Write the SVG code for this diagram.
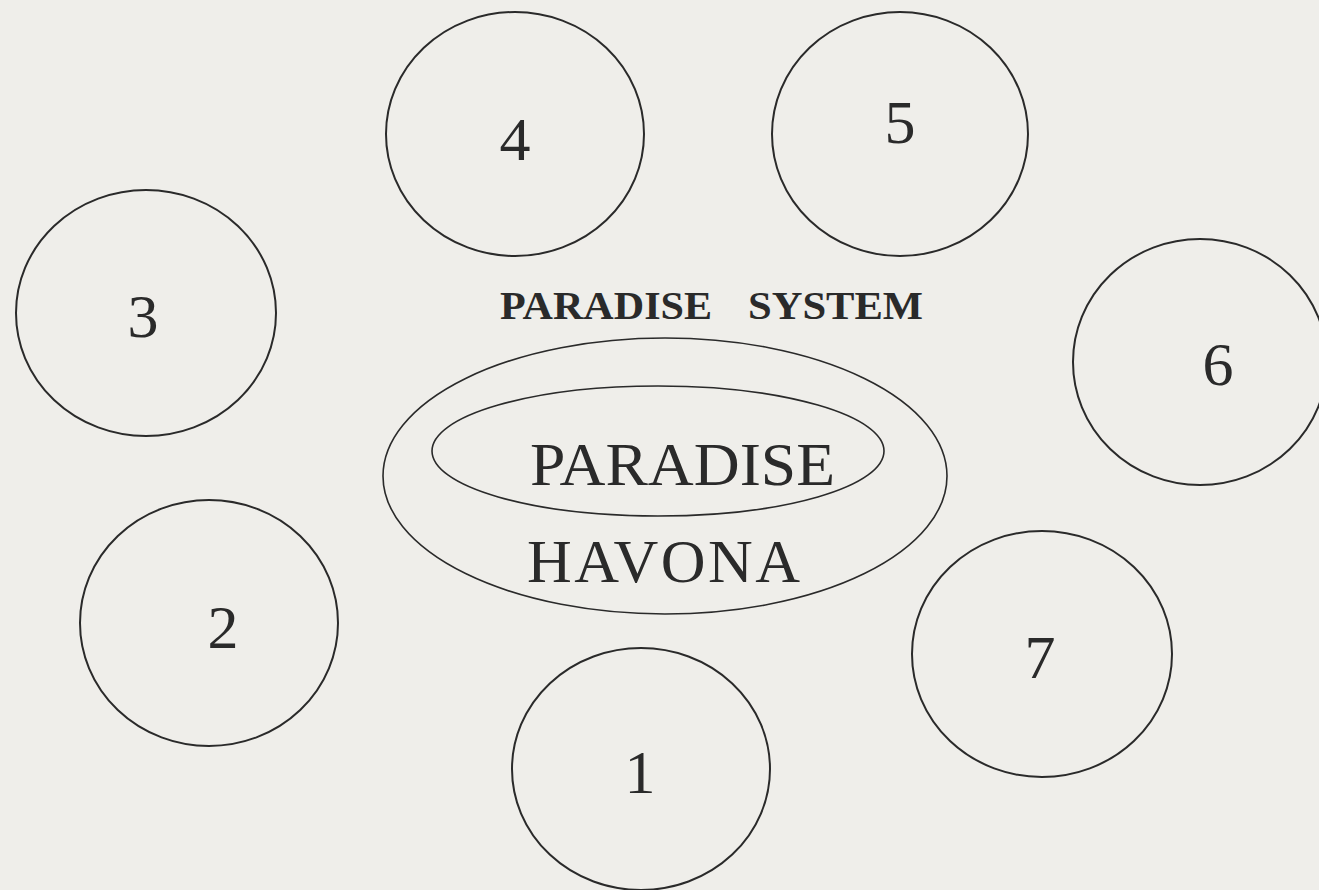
<svg xmlns="http://www.w3.org/2000/svg" width="1319" height="890" viewBox="0 0 1319 890">
<style>
.c{fill:none;stroke:#2a2a2a;stroke-width:2}
.e{fill:none;stroke:#2a2a2a;stroke-width:1.6}
.n{font-family:"Liberation Serif","Times New Roman",serif;font-size:62px;fill:#2a2a2a;text-anchor:middle}
.b{font-family:"Liberation Serif","Times New Roman",serif;font-size:41px;font-weight:bold;fill:#2a2a2a}
.big{font-family:"Liberation Serif","Times New Roman",serif;font-size:62px;fill:#2a2a2a}
</style>
<rect width="1319" height="890" fill="#efeeea"/>
<g id="connectors"></g>
<g id="n4"><ellipse class="c" cx="515" cy="134" rx="129" ry="122"/><text class="n" x="515" y="160">4</text></g>
<g id="n5"><ellipse class="c" cx="900" cy="134" rx="128" ry="122"/><text class="n" x="900" y="143">5</text></g>
<g id="n3"><ellipse class="c" cx="146" cy="313" rx="130" ry="123"/><text class="n" x="143" y="337">3</text></g>
<g id="n6"><ellipse class="c" cx="1200" cy="362" rx="127" ry="123"/><text class="n" x="1218" y="385">6</text></g>
<g id="n2"><ellipse class="c" cx="209" cy="623" rx="129" ry="123"/><text class="n" x="223" y="648">2</text></g>
<g id="n7"><ellipse class="c" cx="1042" cy="654" rx="130" ry="123"/><text class="n" x="1040" y="678">7</text></g>
<g id="n1"><ellipse class="c" cx="641" cy="769" rx="129" ry="121"/><text class="n" x="640" y="793">1</text></g>
<g id="system">
<text class="b" x="500" y="319" textLength="212" lengthAdjust="spacingAndGlyphs">PARADISE</text>
<text class="b" x="748" y="319" textLength="175" lengthAdjust="spacingAndGlyphs">SYSTEM</text>
</g>
<g id="havona"><ellipse class="e" cx="665" cy="476" rx="282" ry="138"/><text class="big" x="527" y="582" textLength="273" lengthAdjust="spacing">HAVONA</text></g>
<g id="paradise"><ellipse class="e" cx="658" cy="451" rx="226" ry="65"/><text class="big" x="530" y="485" textLength="305" lengthAdjust="spacingAndGlyphs">PARADISE</text></g>
</svg>
